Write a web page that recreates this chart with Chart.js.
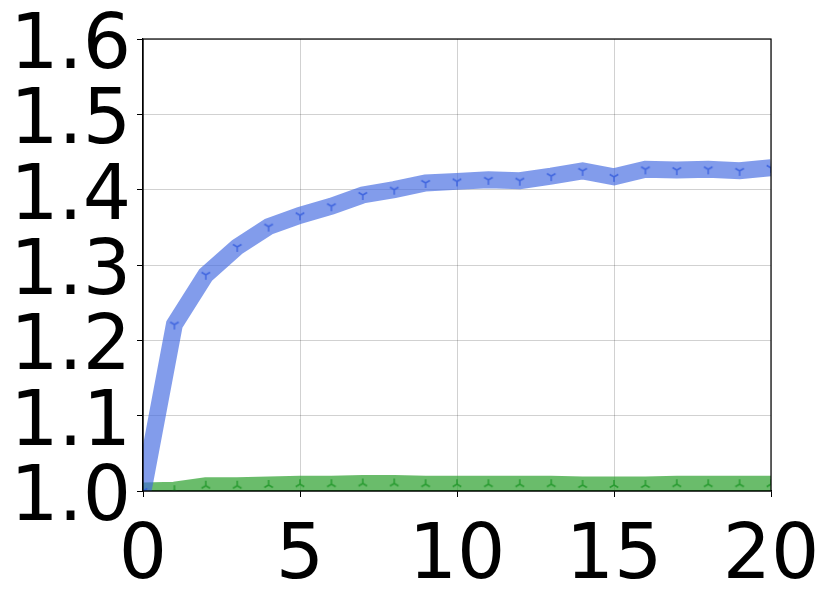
<!DOCTYPE html>
<html>
<head>
<meta charset="utf-8">
<script src="https://cdn.jsdelivr.net/npm/chart.js@4/dist/chart.umd.min.js"></script>
<style>
  html, body { margin: 0; padding: 0; background: #fff; }
  #wrap { width: 831px; height: 603px; }
</style>
</head>
<body>
<div id="wrap"><canvas id="c" width="831" height="603"></canvas></div>
<script>
const steps = [0, 1, 2, 3, 4, 5, 6, 7, 8, 9, 10, 11, 12, 13, 14, 15, 16, 17, 18, 19, 20];
const blueVals = [1.0, 1.221, 1.287, 1.324, 1.351, 1.366, 1.378, 1.393, 1.400, 1.409, 1.411,
  1.413, 1.412, 1.418, 1.425, 1.417, 1.427, 1.426, 1.427, 1.425, 1.429];
const greenVals = [1.0, 1.001, 1.007, 1.007, 1.008, 1.009, 1.009, 1.010, 1.010, 1.009, 1.009,
  1.009, 1.009, 1.009, 1.008, 1.008, 1.008, 1.009, 1.009, 1.009, 1.009];
const xTicks = [0, 5, 10, 15, 20];
const yTicks = [1.0, 1.1, 1.2, 1.3, 1.4, 1.5, 1.6];

// little "Y" markers like matplotlib tri_down / tri_up
function triMarker(color, down) {
  const c = document.createElement('canvas');
  c.width = 12; c.height = 12;
  const g = c.getContext('2d');
  g.strokeStyle = color;
  g.lineWidth = 1.5;
  g.translate(6, 6);
  const s = down ? 1 : -1;
  g.beginPath();
  g.moveTo(0, 0); g.lineTo(0, 5 * s);
  g.moveTo(0, 0); g.lineTo(-4.3, -2.5 * s);
  g.moveTo(0, 0); g.lineTo(4.3, -2.5 * s);
  g.stroke();
  return c;
}

const labelFont = '76px "DejaVu Sans"';

// frame on all four sides + the big tick labels
const frameAndLabels = {
  id: 'frameAndLabels',
  afterDraw(chart) {
    const a = chart.chartArea, ctx = chart.ctx;
    ctx.save();
    ctx.strokeStyle = '#000';
    ctx.lineWidth = 1.2;
    ctx.strokeRect(a.left, a.top, a.right - a.left, a.bottom - a.top);

    ctx.fillStyle = '#000';
    ctx.font = labelFont;
    ctx.textBaseline = 'alphabetic';
    const ys = chart.scales.y, xs = chart.scales.x;
    ctx.textAlign = 'right';
    yTicks.forEach(v => {
      ctx.fillText(v.toFixed(1), a.left - 12, ys.getPixelForValue(v) + 29);
    });
    ctx.textAlign = 'center';
    xTicks.forEach(v => {
      ctx.fillText(String(v), xs.getPixelForValue(v), a.bottom + 87);
    });
    ctx.restore();
  }
};

new Chart(document.getElementById('c'), {
  type: 'line',
  data: {
    datasets: [
      {
        data: steps.map((x, i) => ({ x: x, y: blueVals[i] })),
        borderColor: 'rgba(65,105,225,0.66)',
        borderWidth: 17,
        pointStyle: triMarker('rgba(50,90,220,0.8)', true),
        pointRadius: 6,
        tension: 0
      },
      {
        data: steps.map((x, i) => ({ x: x, y: greenVals[i] })),
        borderColor: 'rgba(43,160,44,0.7)',
        borderWidth: 17,
        pointStyle: triMarker('rgba(30,150,40,0.85)', false),
        pointRadius: 6,
        tension: 0
      }
    ]
  },
  options: {
    responsive: false,
    animation: false,
    layout: { padding: { top: 39, right: 60, left: 0, bottom: 0 } },
    plugins: { legend: { display: false }, tooltip: { enabled: false } },
    scales: {
      x: {
        type: 'linear',
        min: 0, max: 20,
        afterBuildTicks: (s) => { s.ticks = xTicks.map(v => ({ value: v })); },
        afterFit: (s) => { s.height = 112; },
        ticks: { display: false },
        grid: { color: 'rgba(0,0,0,0.18)', tickColor: '#000', tickLength: 6 },
        border: { color: '#000', width: 1.2 }
      },
      y: {
        min: 1.0, max: 1.6,
        afterBuildTicks: (s) => { s.ticks = yTicks.map(v => ({ value: v })); },
        afterFit: (s) => { s.width = 143; },
        ticks: { display: false },
        grid: { color: 'rgba(0,0,0,0.18)', tickColor: '#000', tickLength: 6 },
        border: { color: '#000', width: 1.2 }
      }
    }
  },
  plugins: [frameAndLabels]
});
</script>
</body>
</html>
